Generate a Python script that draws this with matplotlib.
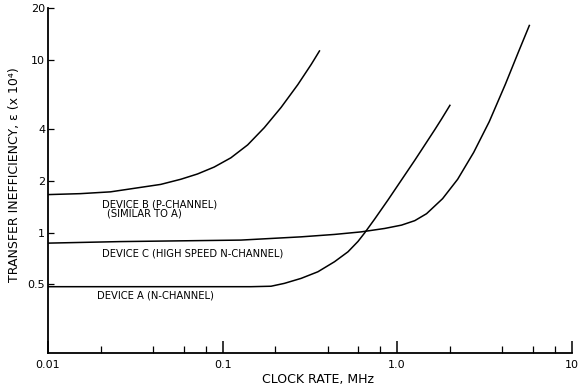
import matplotlib
matplotlib.use("Agg")
import matplotlib.pyplot as plt
from matplotlib.ticker import FixedLocator, FixedFormatter, LogLocator, NullLocator, NullFormatter

# ---- data ----
a_x = [0.01, 0.0387, 0.1454, 0.1895, 0.2259, 0.2818, 0.3516, 0.4378, 0.5229, 0.5968, 0.651,
       0.7434, 0.8879, 1.035, 1.262, 1.38, 1.644, 1.797, 2.006]
a_y = [0.485, 0.485, 0.485, 0.488, 0.507, 0.542, 0.592, 0.677, 0.773, 0.888, 0.994,
       1.197, 1.549, 1.95, 2.626, 3.015, 3.955, 4.559, 5.47]

b_x = [0.01, 0.0153, 0.0228, 0.0442, 0.0576, 0.0718, 0.0895, 0.1116, 0.1392, 0.1734, 0.2163,
       0.2698, 0.3218, 0.359]
b_y = [1.66, 1.681, 1.722, 1.902, 2.037, 2.186, 2.398, 2.714, 3.224, 4.06, 5.317,
       7.213, 9.443, 11.31]

c_x = [0.01, 0.026, 0.1274, 0.2818, 0.4378, 0.6234, 0.8485, 1.059, 1.262, 1.474, 1.821,
       2.221, 2.745, 3.37, 4.164, 4.96, 5.72]
c_y = [0.868, 0.886, 0.904, 0.944, 0.975, 1.009, 1.056, 1.104, 1.172, 1.286, 1.572,
       2.036, 2.917, 4.397, 7.23, 11.2, 15.9]

x_ticks = [0.01, 0.1, 1.0, 10]
x_tick_labels = ["0.01", "0.1", "1.0", "10"]
y_ticks = [0.5, 1, 2, 4, 10, 20]
y_tick_labels = ["0.5", "1", "2", "4", "10", "20"]

label_a = "DEVICE A (N-CHANNEL)"
label_b = "DEVICE B (P-CHANNEL)"
label_b2 = "(SIMILAR TO A)"
label_c = "DEVICE C (HIGH SPEED N-CHANNEL)"

# ---- figure ----
W, H = 579, 389
fig = plt.figure(figsize=(W / 100, H / 100), dpi=100)
ax = fig.add_axes([48 / W, (H - 353) / H, (571.7 - 48) / W, (353 - 8.3) / H])

ax.set_xscale("log")
ax.set_yscale("log")
ax.set_xlim(0.01, 10)
ax.set_ylim(0.2, 20)

lw = 1.1
for xs, ys in [(a_x, a_y), (b_x, b_y), (c_x, c_y)]:
    ax.plot(xs, ys, color="black", lw=lw, solid_joinstyle="round")

for s in ["top", "right"]:
    ax.spines[s].set_visible(False)
for s in ["left", "bottom"]:
    ax.spines[s].set_linewidth(1.3)

ax.xaxis.set_major_locator(FixedLocator(x_ticks))
ax.xaxis.set_major_formatter(FixedFormatter(x_tick_labels))
ax.xaxis.set_minor_locator(LogLocator(base=10, subs=[2, 4, 6, 8]))
ax.xaxis.set_minor_formatter(NullFormatter())
ax.yaxis.set_major_locator(FixedLocator(y_ticks))
ax.yaxis.set_major_formatter(FixedFormatter(y_tick_labels))
ax.yaxis.set_minor_locator(NullLocator())

ax.tick_params(axis="x", which="major", direction="in", length=9, width=1.1, pad=5, labelsize=8)
ax.tick_params(axis="x", which="minor", direction="in", length=5, width=0.9)
ax.tick_params(axis="y", which="major", direction="in", length=4.5, width=0.9, pad=2, labelsize=8)

fig.text(318 / W, 1 - 380 / H, "CLOCK RATE, MHz", fontsize=9, ha="center", va="center")
fig.text(15 / W, 1 - 175 / H, "TRANSFER INEFFICIENCY, \u03b5 (x 10\u2074)", rotation=90,
         fontsize=9, ha="center", va="center")

fs = 7.2
ax.text(0.0204, 1.45, label_b, fontsize=fs, ha="left", va="center")
ax.text(0.0218, 1.285, label_b2, fontsize=fs, ha="left", va="center")
ax.text(0.0204, 0.757, label_c, fontsize=fs, ha="left", va="center")
ax.text(0.0192, 0.434, label_a, fontsize=fs, ha="left", va="center")

fig.savefig("out.png", dpi=100)
